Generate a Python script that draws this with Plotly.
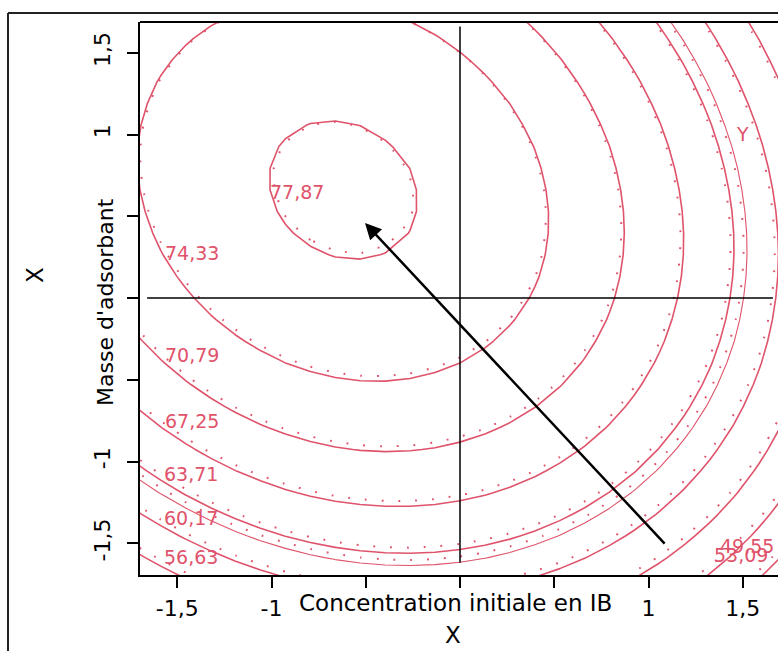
import numpy as np
import plotly.graph_objects as go

# ---------------- data ----------------
levels = [49.55, 53.09, 56.63, 60.17, 63.71, 67.25, 70.79, 74.33, 77.87]
extra_level = [62.70]
# second-order model: b0, b1 (x), b2 (y), b11 (x^2), b22 (y^2), b12 (xy)
solid_coef = [76.16, -3.660, 3.385, -3.508, -3.055, -1.045]
dotted_coef = [76.03, -3.695, 3.525, -3.557, -3.098, -1.060]
grid_pts = np.linspace(-1.72, 1.72, 27)
x_ticks = [-1.5, -1.0, -0.5, 0.0, 0.5, 1.0, 1.5]
x_ticktext = ["-1,5", "-1", "", "", "", "1", "1,5"]
y_ticks = [-1.5, -1.0, -0.5, 0.0, 0.5, 1.0, 1.5]
y_ticktext = ["-1,5", "-1", "", "", "", "1", "1,5"]
arrow_tail = (1.093, -1.511)
arrow_head = (-0.504, 0.459)
x_title = "Concentration initiale en IB"
y_title = "Masse d'adsorbant"
resp_name = "Y"

# ---------------- styling / layout ----------------
RED = "#DF536B"
FONT = "DejaVu Sans"
W, H = 778, 651
ML, MT, MR, MB = 140, 22, 0, 76
PX_X0, PX_PER_X = 460.0, 188.5
PX_Y0, PX_PER_Y = 298.0, 163.5


def px2x(px):
    return (px - PX_X0) / PX_PER_X


def px2y(py):
    return (PX_Y0 - py) / PX_PER_Y


def model(c, X, Y):
    return c[0] + c[1] * X + c[2] * Y + c[3] * X ** 2 + c[4] * Y ** 2 + c[5] * X * Y


GX, GY = np.meshgrid(grid_pts, grid_pts)
Z_solid = model(solid_coef, GX, GY)
Z_dot = model(dotted_coef, GX, GY)
step = levels[1] - levels[0]

fig = go.Figure()


def add_contour(z, start, end, size, width, dash=None):
    fig.add_trace(go.Contour(
        x=grid_pts, y=grid_pts, z=z,
        contours=dict(coloring="lines", start=start, end=end, size=size, showlabels=False),
        line=dict(width=width, dash=dash, smoothing=0),
        colorscale=[[0, RED], [1, RED]], showscale=False, hoverinfo="skip",
    ))


add_contour(Z_dot, levels[0], levels[-1] + 1e-6, step, 2.0, "1.8px,15px")
add_contour(Z_dot, extra_level[0], extra_level[0] + 1e-6, 10, 2.0, "1.8px,15px")
add_contour(Z_solid, levels[0], levels[-1] + 1e-6, step, 1.6)
add_contour(Z_solid, extra_level[0], extra_level[0] + 1e-6, 10, 1.1)

xr = [px2x(ML), px2x(W - MR)]
yr = [px2y(H - MB), px2y(MT)]

axis_common = dict(
    showgrid=False, zeroline=False, showline=True, linecolor="black", linewidth=2,
    ticks="outside", ticklen=11, tickwidth=1.5, tickcolor="black",
    tickfont=dict(family=FONT, size=22, color="black"),
)
fig.update_layout(
    width=W, height=H, margin=dict(l=ML, r=MR, t=MT, b=MB),
    paper_bgcolor="white", plot_bgcolor="white", showlegend=False,
    xaxis=dict(range=xr, tickvals=x_ticks, ticktext=x_ticktext, ticklabelstandoff=2, **axis_common),
    yaxis=dict(range=yr, tickvals=y_ticks, ticktext=y_ticktext, tickangle=-90,
               ticklabelstandoff=8, **axis_common),
)

# cross lines through the origin
lim = 1.66
fig.add_shape(type="line", x0=-lim, x1=lim, y0=0, y1=0, line=dict(color="black", width=1.5))
fig.add_shape(type="line", x0=0, x1=0, y0=-1.62, y1=lim, line=dict(color="black", width=1.5))
# top border of the plot box
fig.add_shape(type="line", xref="paper", yref="paper", x0=0, x1=1, y0=1, y1=1,
              line=dict(color="black", width=2))


def ppx(px):
    return (px - ML) / (W - ML - MR)


def ppy(py):
    return (H - MB - py) / (H - MT - MB)


# outer frame
fig.add_shape(type="line", xref="paper", yref="paper", x0=ppx(8), x1=ppx(8), y0=ppy(H + 5), y1=ppy(13),
              line=dict(color="#222", width=2))
fig.add_shape(type="line", xref="paper", yref="paper", x0=ppx(8), x1=ppx(W + 5), y0=ppy(13), y1=ppy(13),
              line=dict(color="#222", width=2))

# contour labels
label_px = {77.87: (297, 192), 74.33: (192, 253), 70.79: (192, 355), 67.25: (192, 421),
            63.71: (191, 474), 60.17: (191, 518), 56.63: (191, 557), 49.55: (747, 546),
            53.09: (741, 555)}
for lv in levels:
    px, py = label_px[lv]
    fig.add_annotation(x=px2x(px), y=px2y(py), text=f"{lv:.2f}".replace(".", ","), showarrow=False,
                       xanchor="center", yanchor="middle", font=dict(family=FONT, size=19, color=RED))
fig.add_annotation(x=px2x(742), y=px2y(134), text=resp_name, showarrow=False,
                   xanchor="center", yanchor="middle", font=dict(family=FONT, size=19, color=RED))

# arrow
fig.add_annotation(x=arrow_head[0], y=arrow_head[1], ax=arrow_tail[0], ay=arrow_tail[1],
                   xref="x", yref="y", axref="x", ayref="y", text="", showarrow=True,
                   arrowhead=2, arrowsize=1.3, arrowwidth=2.5, arrowcolor="black")

# axis titles
fig.add_annotation(xref="paper", yref="paper", x=ppx(455), y=ppy(603), text=x_title, showarrow=False,
                   xanchor="center", yanchor="middle", font=dict(family=FONT, size=23, color="black"))
fig.add_annotation(xref="paper", yref="paper", x=ppx(453), y=ppy(635), text="X", showarrow=False,
                   xanchor="center", yanchor="middle", font=dict(family=FONT, size=23, color="black"))
fig.add_annotation(xref="paper", yref="paper", x=ppx(105), y=ppy(302), text=y_title, showarrow=False,
                   textangle=-90, xanchor="center", yanchor="middle",
                   font=dict(family=FONT, size=22, color="black"))
fig.add_annotation(xref="paper", yref="paper", x=ppx(35), y=ppy(275), text="X", showarrow=False,
                   textangle=-90, xanchor="center", yanchor="middle",
                   font=dict(family=FONT, size=23, color="black"))

fig.write_html("out.html", config={"displayModeBar": False})
